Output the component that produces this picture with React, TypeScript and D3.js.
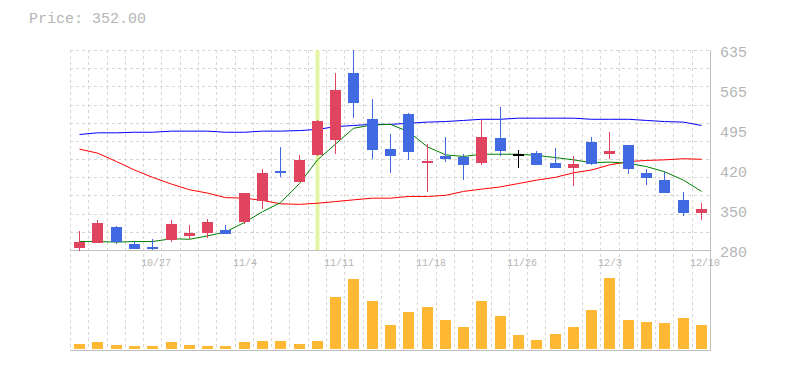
import React from "react";
import * as d3 from "d3";

// trading days (2021)
const dates = [
  "10/21", "10/22", "10/25", "10/26", "10/27", "10/28", "10/29", "11/1", "11/2", "11/4",
  "11/5", "11/8", "11/9", "11/10", "11/11", "11/12", "11/15", "11/16", "11/17", "11/18",
  "11/19", "11/22", "11/24", "11/25", "11/26", "11/29", "11/30", "12/1", "12/2", "12/3",
  "12/6", "12/7", "12/8", "12/9", "12/10",
];

const open = [284, 293, 321, 291, 286, 297, 304, 311, 315, 330, 367, 420, 400, 449, 475, 594, 512, 459, 521, 435, 446, 445, 435, 479, 450, 453, 434, 426, 472, 451, 466, 417, 404, 369, 346];
const high = [314, 333, 323, 296, 300, 333, 324, 335, 325, 381, 424, 462, 449, 511, 594, 635, 548, 486, 523, 468, 481, 450, 511, 534, 457, 456, 461, 447, 481, 489, 466, 423, 418, 383, 363];
const low = [279, 293, 291, 281, 280, 295, 299, 302, 309, 327, 353, 410, 400, 447, 451, 515, 441, 417, 440, 383, 437, 405, 431, 447, 426, 430, 426, 394, 431, 441, 415, 396, 382, 341, 334];
const close = [294, 328, 294, 282, 282, 326, 311, 330, 309, 381, 417, 417, 440, 509, 564, 541, 457, 446, 454, 438, 442, 430, 481, 456, 450, 431, 426, 432, 432, 456, 424, 407, 382, 346, 352];

const volume = [50, 73, 40, 30, 30, 73, 40, 30, 30, 73, 83, 83, 50, 83, 520, 700, 480, 240, 370, 420, 290, 220, 480, 330, 140, 90, 150, 220, 390, 710, 290, 270, 260, 310, 240];

// moving averages
const ma5 = [295, 295, 294, 295, 295, 300, 299, 305, 312, 329, 348, 364, 398, 440, 468, 496, 502, 503, 490, 463, 449, 446, 450, 450, 450, 448, 444, 440, 435, 436, 434, 428, 419, 404, 384];
const ma25 = [459, 452, 437, 422, 409, 397, 387, 381, 373, 372, 368, 362, 361, 363, 366, 369, 372, 372, 375, 375, 377, 384, 388, 392, 398, 404, 409, 417, 422, 431, 437, 439, 440, 442, 441];
const ma75 = [485, 488, 488, 489, 489, 491, 491, 491, 489, 489, 491, 491, 492, 494, 499, 501, 503, 503, 505, 507, 508, 510, 512, 512, 514, 514, 514, 514, 512, 512, 512, 510, 508, 507, 501];

const priceTicks = [635, 565, 495, 420, 350, 280];
const labelDates = ["10/27", "11/4", "11/11", "11/18", "11/26", "12/3", "12/10"];
const markedDate = "11/10";

const W = 785, H = 370;
const L = 70, R = 710, T = 50, B = 250;
const VB = 349, VBOTTOM = 350;

const red = "#e0445f";
const blue = "#4169e1";
const gridColor = "#d6d6d6";
const axisColor = "#bfbfbf";
const textColor = "#b5b5b5";
const font = "'Liberation Mono', monospace";

const App = () => {
  const x = d3.scaleBand<string>().domain(dates).range([L, R]);
  const step = x.step();
  const cx = (d: string) => Math.round((x(d) ?? 0) + step / 2);

  const y = d3.scaleLinear().domain([280, 635]).range([B, T]);
  const yv = d3.scaleLinear().domain([0, 900]).range([VB, VB - 90]);

  const line = (vals: number[]) =>
    d3.line<number>()
      .x((_, i) => cx(dates[i]) + 0.5)
      .y((v) => y(v))(vals) ?? "";

  const hGrid = d3.range(0, 11).map((i) => T + ((B - T) / 11) * i);
  const vGrid = d3.range(0, dates.length).map((i) => L + step * i);
  const tickPos = d3.range(priceTicks.length).map((i) => 635 - (355 / 5) * i);

  return (
    <svg width={W} height={H} style={{ position: "absolute", left: 0, top: 0, background: "#fff" }}>
      <text x={29} y={23} fontFamily={font} fontSize={15} fill={textColor}>
        Price: {close[close.length - 1].toFixed(2)}
      </text>

      {/* grid */}
      <g stroke={gridColor} strokeDasharray="3,3" shapeRendering="crispEdges">
        {hGrid.map((gy, i) => (
          <line key={"h" + i} x1={L} x2={R} y1={Math.round(gy) + 0.5} y2={Math.round(gy) + 0.5} />
        ))}
        {vGrid.map((gx, i) => (
          <line key={"v" + i} x1={Math.round(gx) + 0.5} x2={Math.round(gx) + 0.5} y1={T} y2={VBOTTOM} />
        ))}
      </g>

      {/* highlighted day */}
      <rect x={cx(markedDate) - 1.5} y={T} width={4} height={B - T} fill="#e4f5a2" />

      {/* axes frame */}
      <g stroke={axisColor} shapeRendering="crispEdges">
        <line x1={L} x2={R + 1} y1={B + 0.5} y2={B + 0.5} />
        <line x1={L} x2={R + 1} y1={VBOTTOM + 0.5} y2={VBOTTOM + 0.5} />
        <line x1={R + 0.5} x2={R + 0.5} y1={T} y2={VBOTTOM} />
      </g>

      {/* price labels */}
      {priceTicks.map((t, i) => (
        <text key={t} x={720} y={y(tickPos[i]) + 7} fontFamily={font} fontSize={15} fill={textColor}>
          {t}
        </text>
      ))}

      {/* date labels */}
      {labelDates.map((d) => (
        <text key={d} x={cx(d) - 11} y={266} fontFamily={font} fontSize={10} fill={textColor}>
          {d}
        </text>
      ))}

      {/* volume */}
      <g fill="#ffb833" shapeRendering="crispEdges">
        {volume.map((v, i) => (
          <rect key={i} x={cx(dates[i]) - 5} y={yv(v)} width={11} height={VB - yv(v)} />
        ))}
      </g>

      {/* moving averages */}
      <g fill="none" strokeWidth={1}>
        <path d={line(ma75)} stroke="#0000ff" />
        <path d={line(ma25)} stroke="#ff0000" />
        <path d={line(ma5)} stroke="#008000" />
      </g>

      {/* candles */}
      <g shapeRendering="crispEdges">
        {dates.map((d, i) => {
          const c = close[i] > open[i] ? red : close[i] < open[i] ? blue : "#000";
          const top = y(Math.max(open[i], close[i]));
          const bot = y(Math.min(open[i], close[i]));
          const xc = cx(d);
          return (
            <g key={d}>
              <line x1={xc + 0.5} x2={xc + 0.5} y1={y(high[i])} y2={y(low[i])} stroke={c} />
              <rect x={xc - 5} y={top} width={11} height={Math.max(bot - top, 1.5)} fill={c} />
            </g>
          );
        })}
      </g>
    </svg>
  );
};

export default App;
